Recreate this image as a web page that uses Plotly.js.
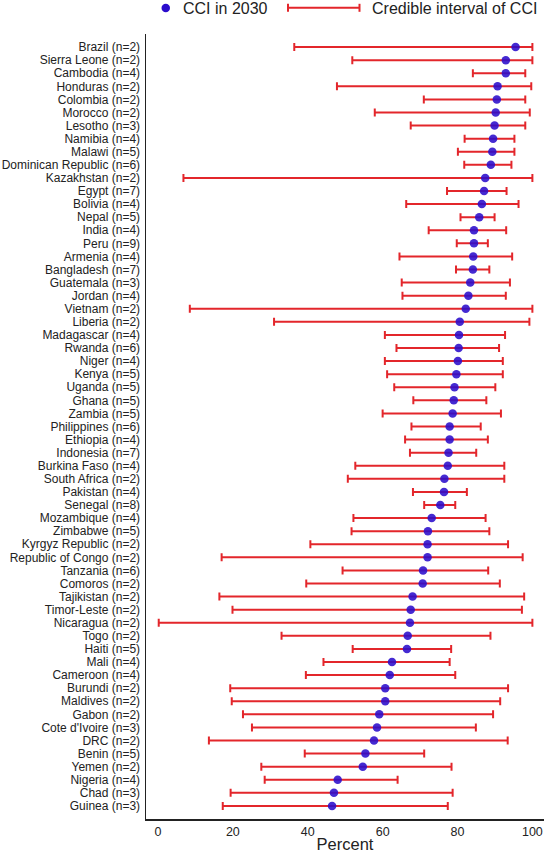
<!DOCTYPE html>
<html>
<head>
<meta charset="utf-8">
<script src="https://cdn.plot.ly/plotly-3.0.1.min.js"></script>
<style>html,body{margin:0;padding:0;background:#fff;}#chart{width:547px;height:853px;}</style>
</head>
<body>
<div id="chart"></div>
<script>
const countries = ["Brazil (n=2)","Sierra Leone (n=2)","Cambodia (n=4)","Honduras (n=2)","Colombia (n=2)","Morocco (n=2)","Lesotho (n=3)","Namibia (n=4)","Malawi (n=5)","Dominican Republic (n=6)","Kazakhstan (n=2)",
"Egypt (n=7)","Bolivia (n=4)","Nepal (n=5)","India (n=4)","Peru (n=9)","Armenia (n=4)","Bangladesh (n=7)","Guatemala (n=3)","Jordan (n=4)","Vietnam (n=2)","Liberia (n=2)",
"Madagascar (n=4)","Rwanda (n=6)","Niger (n=4)","Kenya (n=5)","Uganda (n=5)","Ghana (n=5)","Zambia (n=5)","Philippines (n=6)","Ethiopia (n=4)","Indonesia (n=7)","Burkina Faso (n=4)",
"South Africa (n=2)","Pakistan (n=4)","Senegal (n=8)","Mozambique (n=4)","Zimbabwe (n=5)","Kyrgyz Republic (n=2)","Republic of Congo (n=2)","Tanzania (n=6)","Comoros (n=2)","Tajikistan (n=2)","Timor-Leste (n=2)",
"Nicaragua (n=2)","Togo (n=2)","Haiti (n=5)","Mali (n=4)","Cameroon (n=4)","Burundi (n=2)","Maldives (n=2)","Gabon (n=2)","Cote d'Ivoire (n=3)","DRC (n=2)","Benin (n=5)",
"Yemen (n=2)","Nigeria (n=4)","Chad (n=3)","Guinea (n=3)"];

const cci2030 = [95.5,92.9,92.9,90.7,90.5,90.2,89.9,89.5,89.3,88.9,87.4,
87.1,86.5,85.8,84.4,84.4,84.2,84.1,83.4,82.9,82.2,80.6,
80.4,80.3,80.1,79.7,79.2,79.0,78.7,77.9,77.9,77.6,77.4,
76.5,76.4,75.4,73.1,72.1,72.0,72.0,70.8,70.7,68.0,67.5,
67.3,66.7,66.5,62.5,61.9,60.7,60.7,59.1,58.5,57.7,55.4,
54.7,48.0,47.0,46.5];

const ciLower = [36.4,51.9,84.1,47.8,71.0,57.9,67.5,81.9,80.1,81.8,6.8,
77.2,66.3,80.8,72.3,79.8,64.5,79.6,65.1,65.3,8.5,31.0,
60.6,63.7,60.6,61.2,63.1,68.2,60.0,67.7,66.0,67.3,52.7,
50.7,68.1,71.1,52.2,51.7,40.7,17.0,49.3,39.6,16.4,19.9,
0.2,33.0,52.0,44.2,39.5,19.3,19.7,22.7,25.1,13.6,39.2,
27.6,28.5,19.4,17.3];

const ciUpper = [100,100,98.1,99.7,98.1,99.3,98.1,95.2,95.2,94.4,100,
93.1,96.3,89.9,93.0,88.1,94.6,88.5,94.0,92.9,100,99.2,
92.7,91.1,92.1,92.1,90.1,87.7,91.6,86.2,88.1,85.0,92.5,
92.5,82.5,79.4,87.5,88.5,93.5,97.4,88.2,91.3,97.8,97.2,
100,88.8,78.3,77.9,79.4,93.5,91.4,89.5,84.9,93.4,71.1,
78.4,64.0,78.7,77.4];

const xTicks = [0,20,40,60,80,100];

const RED = '#e3262b';
const BLUE = '#2a0ccc';
const FONT = 'Liberation Sans, Arial, sans-serif';

const errPlus = ciUpper.map((u,i)=>u - cci2030[i]);
const errMinus = cci2030.map((m,i)=>m - ciLower[i]);

const traces = [{
  type:'scatter', mode:'markers', x:cci2030, y:countries,
  name:'CCI in 2030',
  marker:{color:'rgba(42,12,204,0.88)', size:8.5, line:{width:0}},
  error_x:{type:'data', symmetric:false, array:errPlus, arrayminus:errMinus,
           color:RED, thickness:2, width:4},
  showlegend:false, hoverinfo:'x+y'
}];

// legend built in paper coordinates
const L = 146, R = 544, T = 34, B = 819;
const px = v => (v - L)/(R - L);
const py = v => (B - v)/(B - T);

const layout = {
  width:547, height:853,
  margin:{l:L, r:547-R, t:T, b:853-B, pad:0},
  paper_bgcolor:'#fff', plot_bgcolor:'#fff',
  font:{family:FONT, color:'#222', size:12},
  showlegend:false,
  xaxis:{range:[-3.2,103.1], tickmode:'array', tickvals:xTicks, ticktext:xTicks.map(String),
         showline:true, linecolor:'#222', linewidth:1.5, ticks:'', showgrid:false, zeroline:false,
         tickfont:{size:12.5, color:'#222'},
         title:{text:'Percent', font:{size:16.5, color:'#222'}, standoff:2}},
  yaxis:{type:'category', categoryorder:'array', categoryarray:countries,
         tickmode:'array', tickvals:countries, ticktext:countries,
         range:[59,-1], showline:true, linecolor:'#222', linewidth:1.5, ticks:'',
         showgrid:false, zeroline:false, tickfont:{size:12, color:'#222'}, ticklabelstandoff:2},
  shapes:[
    {type:'circle', xref:'paper', yref:'paper', x0:px(161.5), x1:px(170), y0:py(12.3), y1:py(3.8),
     fillcolor:BLUE, line:{width:0}},
    {type:'line', xref:'paper', yref:'paper', x0:px(288), x1:px(359.5), y0:py(7.8), y1:py(7.8),
     line:{color:RED, width:2}},
    {type:'line', xref:'paper', yref:'paper', x0:px(288), x1:px(288), y0:py(3.8), y1:py(11.8),
     line:{color:RED, width:2}},
    {type:'line', xref:'paper', yref:'paper', x0:px(359.5), x1:px(359.5), y0:py(3.8), y1:py(11.8),
     line:{color:RED, width:2}}
  ],
  annotations:[
    {xref:'paper', yref:'paper', x:px(181), y:py(8), xanchor:'left', yanchor:'middle',
     text:'CCI in 2030', showarrow:false, font:{size:16, color:'#222'}},
    {xref:'paper', yref:'paper', x:px(369.5), y:py(8), xanchor:'left', yanchor:'middle',
     text:'Credible interval of CCI', showarrow:false, font:{size:16, color:'#222'}}
  ]
};

Plotly.newPlot('chart', traces, layout, {displayModeBar:false, staticPlot:true});
</script>
</body>
</html>
